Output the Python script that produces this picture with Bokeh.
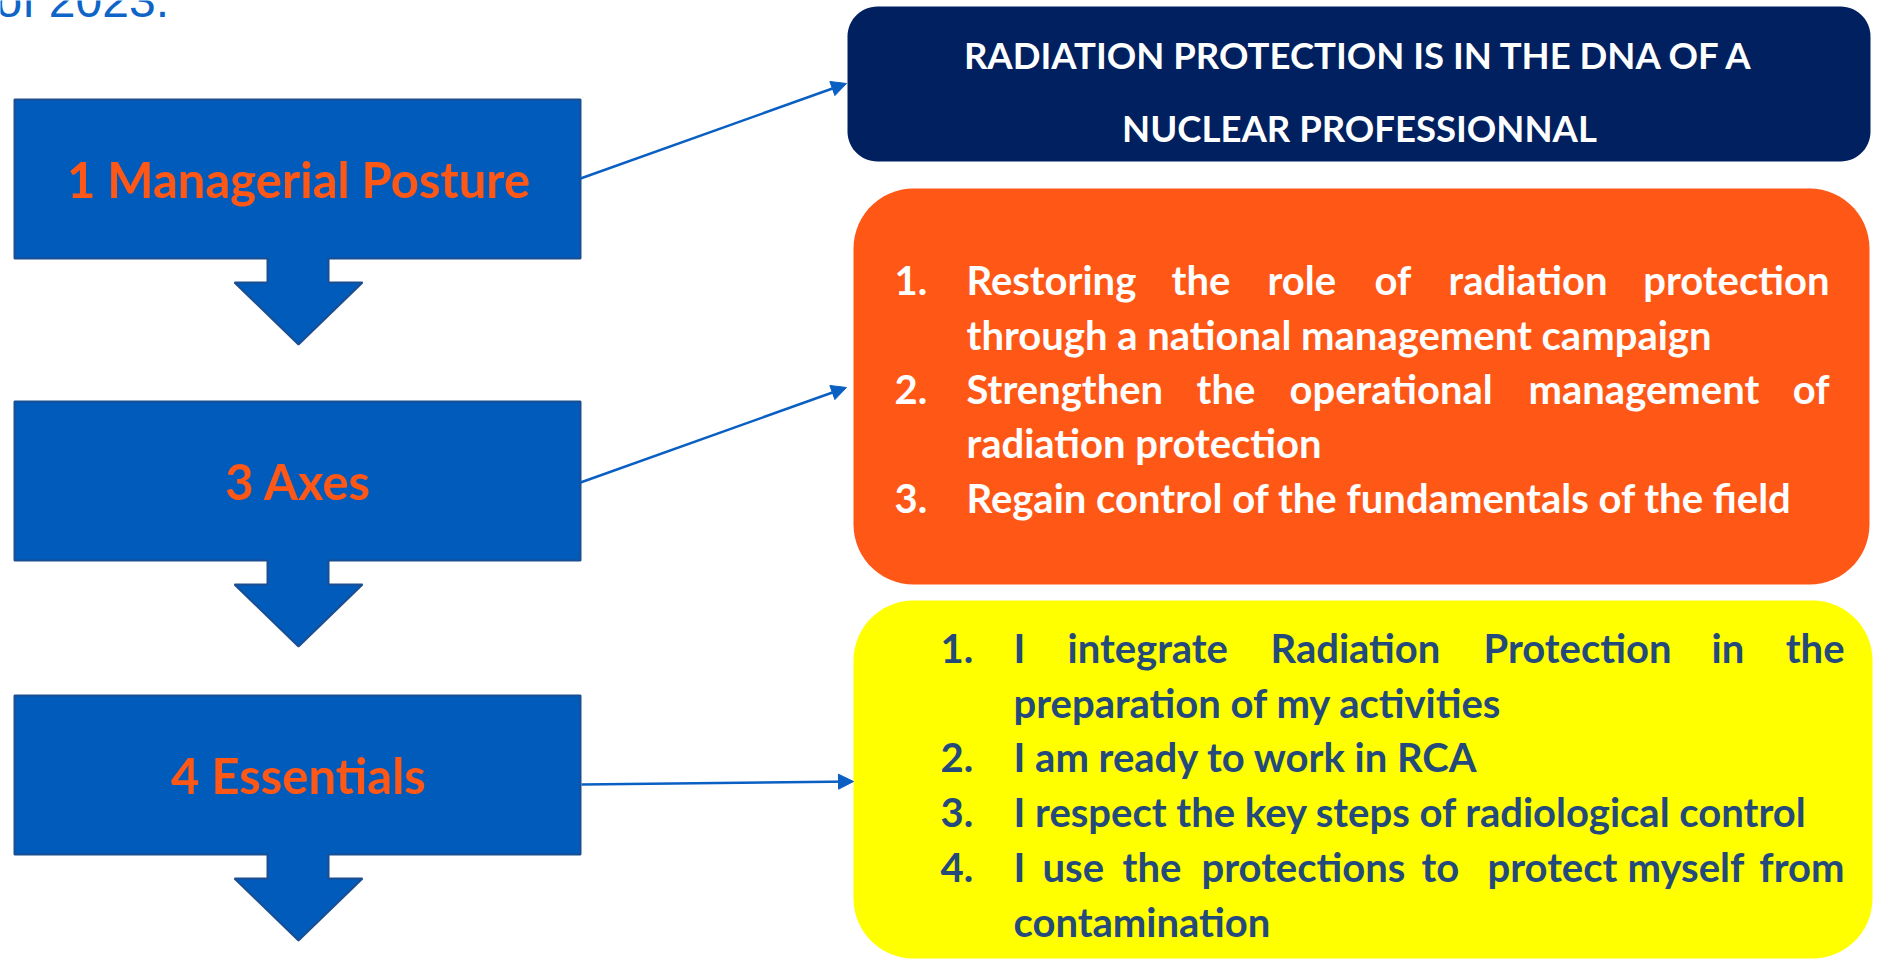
import numpy as np
from bokeh.plotting import figure
from bokeh.models import Range1d, Arrow, NormalHead
from bokeh.core.properties import value
from bokeh.embed import file_html
from bokeh.resources import INLINE

# ---------------- content ----------------
INTRO_TEXT = "of 2023."
STEP_LABELS = ["1 Managerial Posture", "3 Axes", "4 Essentials"]
HEADLINE_LINES = ["RADIATION PROTECTION IS IN THE DNA OF A", "NUCLEAR PROFESSIONNAL"]

AXES_NUMBERS = ["1.", "", "2.", "", "3."]
AXES_LINES = [
    "Restoring the role of radiation protection",
    "through a national management campaign",
    "Strengthen the operational management of",
    "radiation protection",
    "Regain control of the fundamentals of the field",
]
AXES_JUSTIFIED = [True, False, True, False, False]

ESSENTIALS_NUMBERS = ["1.", "", "2.", "3.", "4.", ""]
ESSENTIALS_LINES = [
    "I integrate Radiation Protection in the",
    "preparation of my activities",
    "I am ready to work in RCA",
    "I respect the key steps of radiological control",
    "I use the protections to protect myself from",
    "contamination",
]
ESSENTIALS_JUSTIFIED = [True, False, False, False, True, False]

# ---------------- layout (page pixel coordinates) ----------------
W, H = 1879, 960
BOX_TOPS = [99, 401, 695]
BOX_H = 159
BOX_L, BOX_R = 14, 580
STEM_L, STEM_R = 267, 328
HEAD_L, HEAD_R, TIP_X = 234, 362, 298
HEAD_BASE, HEAD_TIP = 24, 86
SHIFT = 0.38  # baseline correction, as a fraction of the font size

BLUE = "#005BBB"
BLUE_EDGE = "#1B4E91"
ORANGE = "#FF5716"
NAVY = "#002060"
YELLOW = "#FFFF00"
YELLOW_TEXT = "#244A7C"
LINK = "#0A5FC2"
FONT = value("Lato")

p = figure(width=W, height=H, x_range=Range1d(0, W), y_range=Range1d(H, 0),
           toolbar_location=None, output_backend="svg", min_border=0)
p.axis.visible = False
p.grid.visible = False
p.outline_line_color = None
p.background_fill_color = "white"
p.border_fill_color = "white"


def rounded(l, r, t, b, rad):
    xs, ys = [], []
    corners = [(r - rad, t + rad, -np.pi / 2, 0), (r - rad, b - rad, 0, np.pi / 2),
               (l + rad, b - rad, np.pi / 2, np.pi), (l + rad, t + rad, np.pi, 1.5 * np.pi)]
    for cx, cy, a0, a1 in corners:
        a = np.linspace(a0, a1, 16)
        xs.extend(cx + rad * np.cos(a))
        ys.extend(cy + rad * np.sin(a))
    return xs, ys


def base(y, size):
    return y - SHIFT * size


# top-left intro text (cut by the top edge, as in the source slide)
p.text(x=[-5], y=[base(18, 48)], text=[INTRO_TEXT], text_font=value("Liberation Sans"),
       text_font_size=value("48px"), text_color="#0F64C8", text_baseline="alphabetic")

# blue callout boxes with down arrows
cx, cy = [], []
for t in BOX_TOPS:
    b = t + BOX_H
    cx.append([BOX_L, BOX_R, BOX_R, STEM_R, STEM_R, HEAD_R, TIP_X, HEAD_L, STEM_L, STEM_L, BOX_L])
    cy.append([t, t, b, b, b + HEAD_BASE, b + HEAD_BASE, b + HEAD_TIP, b + HEAD_BASE,
               b + HEAD_BASE, b, b])
p.patches(cx, cy, fill_color=BLUE, line_color=BLUE_EDGE, line_width=2)
p.text(x=[(BOX_L + BOX_R) / 2 + 1] * 3, y=[base(t + 98, 49) for t in BOX_TOPS], text=STEP_LABELS,
       text_font=FONT, text_font_style="bold", text_font_size=value("49px"),
       text_color=ORANGE, text_align="center", text_baseline="alphabetic")

# right boxes
nx, ny = rounded(847, 1870, 6, 161, 30)
p.patch(nx, ny, fill_color=NAVY, line_color=None)
ox, oy = rounded(853, 1869, 188, 584, 60)
p.patch(ox, oy, fill_color=ORANGE, line_color=None)
yx, yy = rounded(853, 1872, 600, 958, 60)
p.patch(yx, yy, fill_color=YELLOW, line_color=None)

# headline
p.text(x=[1359, 1359], y=[base(68, 36.5), base(141, 36.5)], text=HEADLINE_LINES, text_font=FONT,
       text_font_style="bold", text_font_size=value("36.5px"), text_color="white",
       text_align="center", text_baseline="alphabetic")


def list_block(numbers, lines, justified, num_x, text_x, right_x, baselines, word_x, color, size):
    left = dict(x=[], y=[], t=[])
    right = dict(x=[], y=[], t=[])
    for i, (n, line, just) in enumerate(zip(numbers, lines, justified)):
        y = base(baselines[i], size)
        if n:
            left["x"].append(num_x); left["y"].append(y); left["t"].append(n)
        if just:
            words = line.split()
            xs = word_x[i]
            for w, x in zip(words[:-1], xs[:-1]):
                left["x"].append(x); left["y"].append(y); left["t"].append(w)
            right["x"].append(right_x); right["y"].append(y); right["t"].append(words[-1])
        else:
            left["x"].append(text_x); left["y"].append(y); left["t"].append(line)
    for d, al in ((left, "left"), (right, "right")):
        p.text(x=d["x"], y=d["y"], text=d["t"], text_font=FONT, text_font_style="bold",
               text_font_size=value(f"{size}px"), text_color=color, text_align=al,
               text_baseline="alphabetic")


AXES_WORD_X = {0: [966, 1171, 1267, 1374, 1448, 1645], 2: [966, 1196, 1289, 1528, 1794]}
list_block(AXES_NUMBERS, AXES_LINES, AXES_JUSTIFIED, 894, 966, 1829,
           [295, 350, 404, 458, 513], AXES_WORD_X, "white", 40)

ESS_WORD_X = {0: [1013, 1067, 1270, 1483, 1711, 1788],
              4: [1013, 1042, 1122, 1201, 1421, 1487, 1627, 1751]}
list_block(ESSENTIALS_NUMBERS, ESSENTIALS_LINES, ESSENTIALS_JUSTIFIED, 940, 1013, 1844,
           [663, 718, 772, 827, 882, 937], ESS_WORD_X, YELLOW_TEXT, 40)

# connectors
for (x0, y0, x1, y1) in [(580, 178, 846, 83), (580, 482, 846, 387), (581, 784, 853, 781)]:
    p.add_layout(Arrow(end=NormalHead(size=15, fill_color=LINK, line_color=LINK),
                       x_start=x0, y_start=y0, x_end=x1, y_end=y1,
                       line_color=LINK, line_width=2.5))

open("out.html", "w").write(file_html(p, INLINE))
